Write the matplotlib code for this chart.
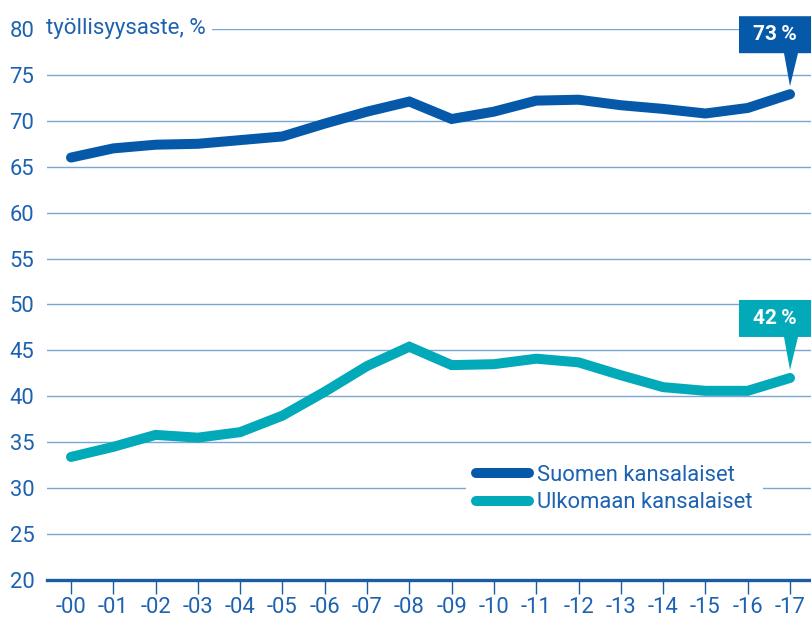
import matplotlib
matplotlib.use("Agg")
import matplotlib.pyplot as plt
from matplotlib.patches import Polygon
import numpy as np

years = ["-00", "-01", "-02", "-03", "-04", "-05", "-06", "-07", "-08",
         "-09", "-10", "-11", "-12", "-13", "-14", "-15", "-16", "-17"]
suomen = [66.0, 67.0, 67.4, 67.5, 67.9, 68.3, 69.7, 71.0, 72.1,
          70.2, 71.0, 72.2, 72.3, 71.7, 71.3, 70.8, 71.4, 72.9]
ulkomaan = [33.4, 34.5, 35.8, 35.5, 36.1, 37.9, 40.5, 43.3, 45.4,
            43.4, 43.5, 44.1, 43.7, 42.3, 41.0, 40.6, 40.6, 42.0]
series_labels = ["Suomen kansalaiset", "Ulkomaan kansalaiset"]
callout_texts = ["73\u2009%", "42\u2009%"]
yticks = [20, 25, 30, 35, 40, 45, 50, 55, 60, 65, 70, 75, 80]
ylabel_text = "työllisyysaste, %"

C_DARK = "#0659A9"
C_TEAL = "#02A9B9"
C_TEXT = "#1D62B0"
C_GRID = "#7AA6D6"
C_AXIS = "#1B5CA8"

plt.rcParams['font.family'] = ['Roboto', 'DejaVu Sans']

W, H = 811, 621
fig = plt.figure(figsize=(W / 100, H / 100), dpi=100)
ax = fig.add_axes([47 / W, (H - 580) / H, (811 - 47) / W, 551 / H])

x = np.arange(len(years))
ax.plot(x, suomen, color=C_DARK, lw=7.2, solid_capstyle='round',
        solid_joinstyle='miter', label=series_labels[0], zorder=4)
ax.plot(x, ulkomaan, color=C_TEAL, lw=7.2, solid_capstyle='round',
        solid_joinstyle='miter', label=series_labels[1], zorder=4)

px = 42.29
ax.set_xlim(-(71 - 47) / px, 17 + (811 - 790) / px)
ax.set_ylim(20, 80)

ax.set_yticks(yticks)
ax.set_xticks(x)
ax.set_xticklabels(years)
ax.tick_params(axis='y', length=0, pad=9, labelsize=15.8, labelcolor=C_TEXT)
ax.tick_params(axis='x', length=10, width=1.0, color=C_AXIS, pad=2,
               labelsize=15.8, labelcolor=C_TEXT)
for s in ['top', 'right', 'left']:
    ax.spines[s].set_visible(False)
ax.spines['bottom'].set_color(C_AXIS)
ax.spines['bottom'].set_linewidth(2.4)
ax.yaxis.grid(True, color=C_GRID, lw=1.0)
ax.set_axisbelow(True)

# y label next to 80 with white background hiding the grid line
ax.text(-0.58, 80, ylabel_text, fontsize=16, color=C_TEXT, va='center', ha='left',
        bbox=dict(facecolor='white', edgecolor='none', pad=4), zorder=3,
        clip_on=False)

# callouts
def callout(xv, yv, color, text):
    x0 = 17 - (790 - 739) / px
    x1 = 17 + (811 - 790) / px
    upp = 60 / 551.0
    tip_y = yv + 8 * upp
    box_bot = yv + 41 * upp
    box_top = box_bot + 37 * upp
    bx0 = xv - 6 / px
    bx1 = xv + 8 / px
    poly = Polygon([[x0, box_bot], [bx0, box_bot], [xv, tip_y], [bx1, box_bot],
                    [x1, box_bot], [x1, box_top], [x0, box_top]],
                   closed=True, facecolor=color, edgecolor='none',
                   clip_on=False, zorder=5)
    ax.add_patch(poly)
    ax.text((x0 + x1) / 2, (box_bot + box_top) / 2, text, color='white',
            fontsize=15, fontweight='bold', ha='center', va='center',
            zorder=6, clip_on=False)

callout(17, suomen[-1], C_DARK, callout_texts[0])
callout(17, ulkomaan[-1], C_TEAL, callout_texts[1])

leg = ax.legend(loc='upper left', bbox_to_anchor=((466 - 47) / 764, (580 - 455) / 551),
                frameon=True, fancybox=False, framealpha=1, edgecolor='none',
                facecolor='white', fontsize=15.8, handlelength=2.4,
                handletextpad=0.4, labelspacing=0.3, borderpad=0.45,
                borderaxespad=0)
for t in leg.get_texts():
    t.set_color(C_TEXT)
for h in leg.get_lines():
    h.set_linewidth(7.2)
    h.set_solid_capstyle('round')

fig.savefig("out.png", dpi=100)
